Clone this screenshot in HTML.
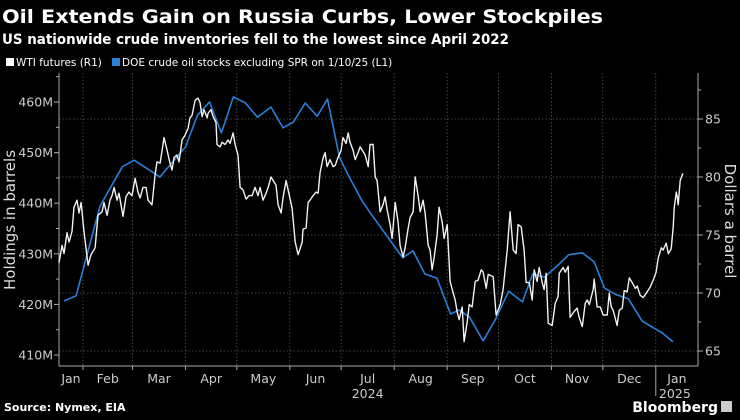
<!DOCTYPE html>
<html><head><meta charset="utf-8">
<style>
html,body{margin:0;padding:0;background:#000;}
body{width:740px;height:416px;overflow:hidden;font-family:"DejaVu Sans","Liberation Sans",sans-serif;}
svg text{font-family:"DejaVu Sans","Liberation Sans",sans-serif;}
</style></head>
<body>
<svg id="chart" width="740" height="416" xmlns="http://www.w3.org/2000/svg">
<rect width="740" height="416" fill="#000"/>
<text x="2" y="23" fill="#fff" font-size="19" font-weight="bold" textLength="601" lengthAdjust="spacingAndGlyphs">Oil Extends Gain on Russia Curbs, Lower Stockpiles</text>
<text x="2" y="44" fill="#fff" font-size="14" font-weight="bold" textLength="507" lengthAdjust="spacingAndGlyphs">US nationwide crude inventories fell to the lowest since April 2022</text>
<g>
<rect x="6" y="58" width="8" height="8" fill="#fff"/>
<text x="16" y="66" fill="#fff" font-size="10.5">WTI futures (R1)</text>
<rect x="112" y="58" width="8" height="8" fill="#2a7fd8"/>
<text x="122" y="66" fill="#fff" font-size="10.5">DOE crude oil stocks excluding SPR on 1/10/25 (L1)</text>
</g>
<g id="grid"></g>
<g id="axes"></g>
<g id="series"></g>
<text transform="translate(15,220) rotate(-90)" text-anchor="middle" fill="#ddd" font-size="15">Holdings in barrels</text>
<text transform="translate(725,221) rotate(90)" text-anchor="middle" fill="#ddd" font-size="15">Dollars a barrel</text>
<text x="4" y="411" fill="#fff" font-size="11" font-weight="bold">Source: Nymex, EIA</text>
<text x="718" y="412" text-anchor="end" fill="#fff" font-size="14" font-weight="bold">Bloomberg</text>
<rect x="721" y="401" width="11" height="11" fill="#ccc"/>
</svg>
<script>
// days are counted since 2024-01-11
const invDays=[10,17,31,44,51,66,81,88,95,102,109,116,123,131,138,144,151,158,164,171,177,184,189,208,214,221,228,236,241,247,255,262,270,278,284,291,299,305,313,320,326,333,340,348,360,366];
const invValues=[420.7,421.7,439.4,447.2,448.5,445.2,451.1,457.4,460.0,453.9,461.0,459.8,457.0,459.0,454.9,456.0,459.8,457.2,460.6,449.1,445.0,440.6,438.1,429.2,430.6,426.0,425.2,418.1,418.9,417.5,412.8,416.9,422.6,420.5,426.0,425.4,427.8,429.8,430.2,428.4,423.2,421.9,421.1,416.7,414.3,412.6];
const wtiDays=[6.4,8.8,9.9,11.7,12.9,14.6,15.8,17.5,18.7,19.9,21.6,24.0,25.7,28.1,29.8,32.2,33.3,35.1,36.8,38.0,39.2,40.9,42.1,44.4,46.2,47.9,49.7,51.5,53.2,54.4,56.1,57.9,59.1,61.4,63.2,64.3,66.1,67.3,68.4,70.2,71.9,73.1,74.3,76.0,77.2,79.0,80.7,82.5,83.6,84.8,86.6,88.3,89.5,90.7,91.8,93.6,94.2,95.9,97.1,98.8,99.4,101.2,102.4,104.1,105.9,107.0,108.8,110.0,111.7,112.9,114.6,116.4,118.2,119.9,121.7,123.4,124.6,126.3,128.1,129.3,131.0,132.2,133.9,135.1,136.9,138.0,139.8,141.0,143.3,145.1,146.8,149.2,149.7,151.5,152.7,153.8,155.6,157.3,158.5,159.7,161.4,162.6,163.8,165.5,167.3,168.5,170.2,172.0,173.1,174.9,176.1,177.2,179.0,180.2,181.9,183.1,184.8,186.0,187.8,188.9,190.7,191.9,193.0,194.8,196.5,197.7,198.9,200.6,201.8,203.6,205.3,206.5,208.2,209.4,211.2,212.3,214.1,215.3,217.0,218.2,219.9,221.1,222.9,224.0,225.2,226.4,228.1,229.3,231.1,232.2,234.0,235.7,237.5,238.7,239.8,241.0,242.8,243.9,245.7,246.9,248.6,250.4,252.1,253.9,255.0,256.8,258.0,260.9,262.6,265.0,266.7,269.1,270.8,272.6,274.3,275.5,277.3,279.0,280.2,282.0,283.7,284.9,286.6,287.8,289.6,290.7,291.9,293.1,295.4,297.2,298.9,299.5,301.8,303.0,304.8,305.9,307.7,310.0,311.2,313.0,314.7,315.9,317.1,319.4,320.0,321.7,323.5,325.2,327.6,328.8,329.9,331.1,333.4,334.6,336.4,337.5,339.3,340.5,342.2,344.0,345.1,346.9,348.6,351.0,352.7,354.5,356.2,357.4,359.2,360.3,362.1,363.3,365.0,366.2,366.8,368.0,368.5,369.1,370.3,371.5,372.0];
const wtiPrices=[72.6,74.1,73.4,75.2,74.4,75.3,77.4,78.0,76.9,77.8,75.3,72.4,73.3,73.9,76.7,77.0,77.8,76.7,78.0,78.4,79.1,78.0,78.6,76.6,78.3,78.7,78.4,79.9,78.7,78.2,79.1,79.1,78.0,77.6,80.2,81.3,81.2,82.3,83.4,82.3,81.2,80.6,81.7,81.9,81.3,83.2,83.6,84.2,85.1,85.3,86.6,86.8,86.4,85.2,85.8,85.1,85.5,85.8,85.2,84.7,82.8,82.6,83.0,82.8,83.2,82.9,83.8,82.8,81.9,79.1,78.9,78.1,78.4,78.4,79.1,78.4,79.1,78.0,78.6,79.1,80.0,79.7,79.3,77.6,76.9,78.2,79.7,78.9,77.3,74.4,73.3,74.4,75.5,75.6,77.8,78.0,78.4,78.7,78.6,80.4,81.6,82.1,80.9,81.5,80.9,81.0,81.7,82.3,83.4,82.9,83.8,83.0,82.3,81.5,82.1,82.6,82.2,81.9,80.9,82.8,82.8,80.0,79.7,77.0,77.6,78.3,77.2,75.9,74.7,77.8,76.1,74.1,73.1,73.9,75.6,76.5,77.0,80.0,78.4,77.0,78.0,76.9,74.1,73.7,72.0,73.1,75.0,77.4,76.1,74.7,75.9,71.0,70.0,69.4,68.4,67.7,68.8,65.8,67.5,69.0,68.8,71.0,71.1,72.0,71.8,70.4,71.6,71.4,68.1,69.0,70.3,73.7,77.0,73.7,73.4,75.9,75.7,73.7,70.9,70.9,69.4,72.0,71.0,72.2,70.9,70.3,71.7,67.4,67.2,69.1,69.7,71.7,72.2,71.8,72.3,67.9,68.3,68.7,67.9,67.1,69.1,69.4,69.0,70.3,71.2,68.8,68.8,68.1,68.1,70.0,68.8,68.5,67.2,68.5,68.7,70.2,70.1,71.3,70.9,70.4,70.6,69.8,69.6,70.1,70.5,71.1,71.8,73.0,73.9,73.7,74.3,73.4,73.8,75.7,77.4,78.7,78.3,77.6,79.7,80.2,80.3];
const leftTicks=[410,420,430,440,450,460];
const leftTickLabels=["410M","420M","430M","440M","450M","460M"];
const rightTicks=[65,70,75,80,85];
const monthStarts=[21,50,81,111,142,172,203,234,264,295,325,356];
const monthLabels=["Jan","Feb","Mar","Apr","May","Jun","Jul","Aug","Sep","Oct","Nov","Dec","Jan"];

const PL=59,PR=698,PT=73,PB=366;
const NS="http://www.w3.org/2000/svg";
function xS(d){return PL+(d-7)*1.71;}
function yL(v){return 102+(460-v)*5.06;}
function yR(p){return 119+(85-p)*11.6;}
function mk(tag,attrs,parent){const e=document.createElementNS(NS,tag);for(const k in attrs)e.setAttribute(k,attrs[k]);parent.appendChild(e);return e;}
const grid=document.getElementById('grid'),axes=document.getElementById('axes'),series=document.getElementById('series');

rightTicks.forEach(function(t){
  const g=mk('line',{x1:PL,x2:PR,y1:yR(t),y2:yR(t),stroke:'#555','stroke-width':0.8,'stroke-dasharray':'1.5,2'},grid);
  
  
  const tk=mk('line',{x1:PR,x2:PR+5,y1:yR(t),y2:yR(t),stroke:'#aaa'},axes);
  
  
  const tx=mk('text',{x:PR+7,y:yR(t)+4.5,fill:'#ccc','font-size':12.5},axes);
  tx.textContent=String(t);
  
  
});
for(let p=67.5;p<=87.5;p+=5){
  const tk=mk('line',{x1:PR,x2:PR+3,y1:yR(p),y2:yR(p),stroke:'#aaa'},axes);
  
  
}
leftTicks.forEach(function(t,i){
  const tk=mk('line',{x1:PL-5,x2:PL,y1:yL(t),y2:yL(t),stroke:'#aaa'},axes);
  
  
  const tx=mk('text',{x:PL-6,y:yL(t)+4.5,fill:'#ccc','font-size':12.5,'text-anchor':'end'},axes);
  tx.textContent=leftTickLabels[i];
  
  
  const mt=mk('line',{x1:PL-3,x2:PL,y1:yL(t+5),y2:yL(t+5),stroke:'#aaa'},axes);
  
  
});
monthStarts.forEach(function(d){
  const g=mk('line',{x1:xS(d),x2:xS(d),y1:PT,y2:PB,stroke:'#555','stroke-width':0.8,'stroke-dasharray':'1.5,2'},grid);
  
  
  const tk=mk('line',{x1:xS(d),x2:xS(d),y1:PB,y2:PB+4,stroke:'#aaa'},axes);
  
  
});
const bounds=[xS(7)].concat(monthStarts.map(xS)).concat([PR]);
monthLabels.forEach(function(m,i){
  const cx=(bounds[i]+bounds[i+1])/2;
  const tx=mk('text',{x:cx,y:383,fill:'#ccc','font-size':12.5,'text-anchor':'middle'},axes);
  tx.textContent=m;
  
  
});
const y24=mk('text',{x:(bounds[6]+bounds[7])/2,y:398,fill:'#ccc','font-size':12.5,'text-anchor':'middle'},axes);
y24.textContent='2024';


const y25=mk('text',{x:(bounds[12]+bounds[13])/2-2,y:398,fill:'#ccc','font-size':12.5,'text-anchor':'middle'},axes);
y25.textContent='2025';


const ysep=mk('line',{x1:xS(356),x2:xS(356),y1:370,y2:396,stroke:'#aaa'},axes);


const axL=mk('line',{x1:PL,x2:PL,y1:PT,y2:PB,stroke:'#aaa'},axes);


const axR=mk('line',{x1:PR,x2:PR,y1:PT,y2:PB,stroke:'#aaa'},axes);


const axB=mk('line',{x1:PL,x2:PR,y1:PB,y2:PB,stroke:'#aaa'},axes);



const invPts=invDays.map(function(d,i){return xS(d).toFixed(1)+','+yL(invValues[i]).toFixed(1);}).join(' ');
const inv=mk('polyline',{points:invPts,fill:'none',stroke:'#2a7fd8','stroke-width':1.6,'stroke-linejoin':'round'},series);


const wtiPts=wtiDays.map(function(d,i){return Math.max(PL,xS(d)).toFixed(1)+','+yR(wtiPrices[i]).toFixed(1);}).join(' ');
const wti=mk('polyline',{points:wtiPts,fill:'none',stroke:'#f2f2f2','stroke-width':1.4,'stroke-linejoin':'round'},series);


</script>
</body></html>
